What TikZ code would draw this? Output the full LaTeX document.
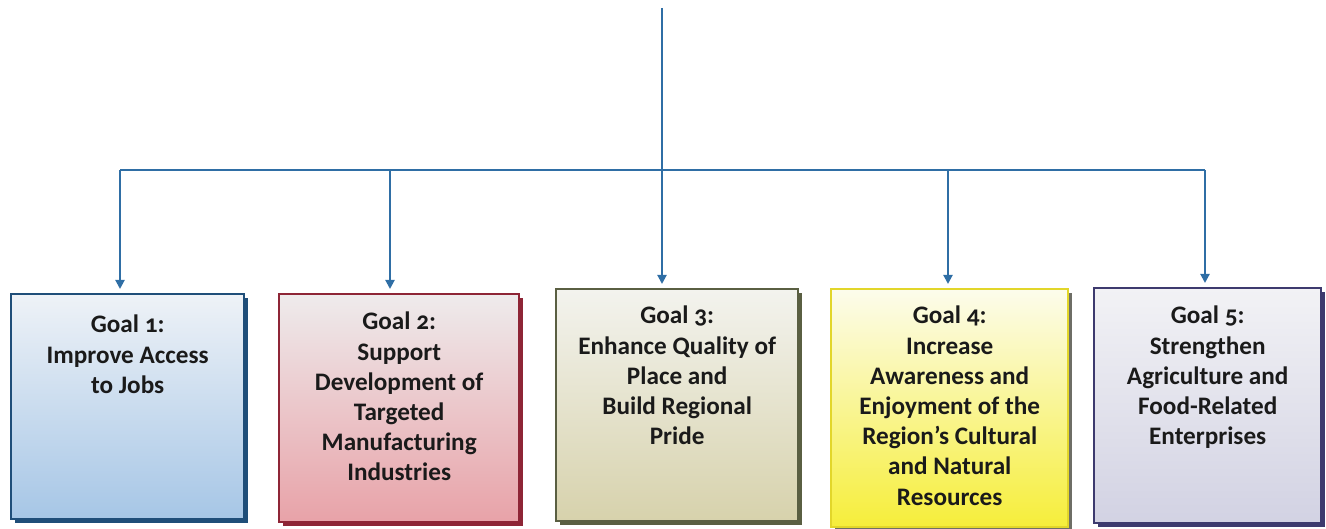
\documentclass[tikz,border=0pt]{standalone}
\usepackage{fontspec}
\setmainfont{Carlito}[Numbers=OldStyle]
\usetikzlibrary{arrows.meta,shadows}

\definecolor{linkblue}{HTML}{2F6EA5}
\definecolor{bluebd}{HTML}{1F4E79}
\definecolor{bluetop}{HTML}{EEF2F7}
\definecolor{bluebot}{HTML}{A6C6E6}
\definecolor{redbd}{HTML}{8E2536}
\definecolor{redtop}{HTML}{EEEBEC}
\definecolor{redbot}{HTML}{E8A2A8}
\definecolor{olivebd}{HTML}{5A5F42}
\definecolor{olivetop}{HTML}{F3F3EE}
\definecolor{olivebot}{HTML}{D7D2AC}
\definecolor{yellowbd}{HTML}{E2D62A}
\definecolor{yellowtop}{HTML}{FCFCEC}
\definecolor{yellowbot}{HTML}{F6EE3A}
\definecolor{yellowsh}{HTML}{6E6E66}
\definecolor{purplebd}{HTML}{3D3A6E}
\definecolor{purpletop}{HTML}{F2F2F5}
\definecolor{purplebot}{HTML}{D2D2E3}
\definecolor{inkdark}{HTML}{1A1A1A}

\tikzset{
  link/.style={draw=linkblue, line width=2pt},
  goalarrow/.style={link, -{Triangle[length=9pt,width=9pt]}, shorten >=4pt},
  goalbox/.style n args={4}{draw=#1, top color=#2, bottom color=#3,
    line width=2.4pt, anchor=north west, inner sep=0pt,
    drop shadow={fill=#4, opacity=1, shadow xshift=4pt, shadow yshift=-4pt}},
  goaltext/.style={anchor=north, align=center, inner sep=0pt, text=inkdark,
    font=\bfseries\fontsize{25.2}{30.2}\selectfont}
}

\begin{document}
\begin{tikzpicture}[x=1pt,y=-1pt]
  \useasboundingbox (0,0) rectangle (1326,529);

  % goal boxes
  \node[goalbox={bluebd}{bluetop}{bluebot}{bluebd}, minimum width=233pt, minimum height=225pt] (box1) at (10,293) {};
  \node[goalbox={redbd}{redtop}{redbot}{redbd}, minimum width=240pt, minimum height=228pt] (box2) at (278,293) {};
  \node[goalbox={olivebd}{olivetop}{olivebot}{olivebd}, minimum width=242pt, minimum height=232pt] (box3) at (555,288) {};
  \node[goalbox={yellowbd}{yellowtop}{yellowbot}{yellowsh}, minimum width=237pt, minimum height=238pt] (box4) at (830,288) {};
  \node[goalbox={purplebd}{purpletop}{purplebot}{purplebd}, minimum width=227pt, minimum height=235pt] (box5) at (1093,287) {};

  % goal texts
  \node[goaltext] (txt1) at ([yshift=-22pt]box1.north) {Goal 1:\\Improve Access\\to Jobs};
  \node[goaltext] (txt2) at ([yshift=-19pt]box2.north) {Goal 2:\\Support\\Development of\\Targeted\\Manufacturing\\Industries};
  \node[goaltext] (txt3) at ([yshift=-18pt]box3.north) {Goal 3:\\Enhance Quality of\\Place and\\Build Regional\\Pride};
  \node[goaltext] (txt4) at ([yshift=-18pt]box4.north) {Goal 4:\\Increase\\Awareness and\\Enjoyment of the\\Region’s Cultural\\and Natural\\Resources};
  \node[goaltext] (txt5) at ([yshift=-19pt]box5.north) {Goal 5:\\Strengthen\\Agriculture and\\Food-Related\\Enterprises};

  % connector tree
  \coordinate (root) at (662,8);
  \coordinate (hub) at (662,170);
  \coordinate (b1) at (120,170);
  \coordinate (b2) at (390,170);
  \coordinate (b4) at (948,170);
  \coordinate (b5) at (1205,170);

  \draw[link] (root) -- (hub);
  \draw[link] (b1) -- (b5);
  \draw[goalarrow] (b1) -- (b1 |- box1.north);
  \draw[goalarrow] (b2) -- (b2 |- box2.north);
  \draw[goalarrow] (hub) -- (hub |- box3.north);
  \draw[goalarrow] (b4) -- (b4 |- box4.north);
  \draw[goalarrow] (b5) -- (b5 |- box5.north);
\end{tikzpicture}
\end{document}
